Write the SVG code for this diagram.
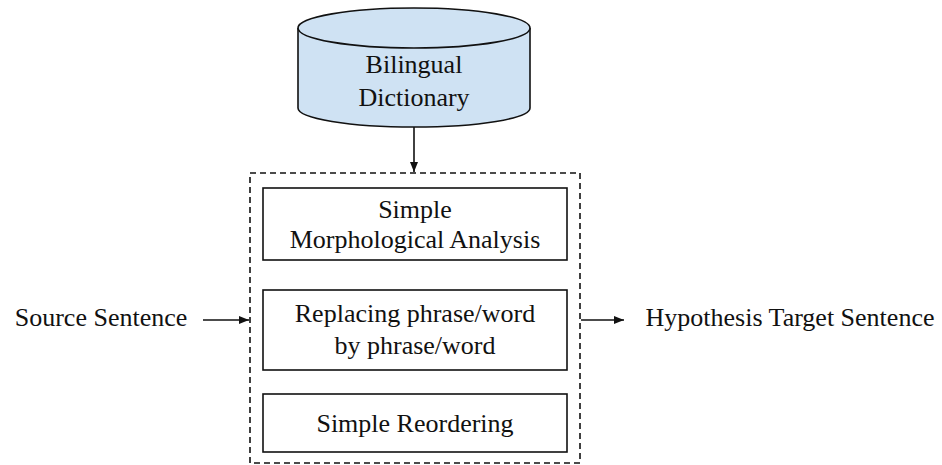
<svg xmlns="http://www.w3.org/2000/svg" width="942" height="465" viewBox="0 0 942 465">
<defs>
<style>
text{font-family:"Liberation Serif","Times New Roman",serif;font-size:26px;fill:#111;text-anchor:middle}
.box{fill:#fff;stroke:#111;stroke-width:1.6}
.ln{stroke:#111;stroke-width:1.6;fill:none}
</style>
<marker id="ah" markerWidth="10" markerHeight="8" refX="10" refY="4" orient="auto" markerUnits="userSpaceOnUse"><path d="M0,0 L10,4 L0,8 Z" fill="#111"/></marker>
</defs>
<g id="dictionary">
<path d="M298,28 L298,108 A116,19 0 0 0 530,108 L530,28" fill="#cfe2f3" stroke="#111" stroke-width="1.6"/>
<ellipse cx="414" cy="28" rx="116" ry="20" fill="#cfe2f3" stroke="#111" stroke-width="1.6"/>
<text x="414" y="73">Bilingual</text>
<text x="414" y="106">Dictionary</text>
</g>
<g id="system">
<rect x="250" y="173" width="330" height="290" fill="none" stroke="#111" stroke-width="1.6" stroke-dasharray="6,4"/>
</g>
<g id="morph">
<rect class="box" x="263" y="188" width="304" height="72"/>
<text x="415" y="218">Simple</text>
<text x="415" y="248">Morphological Analysis</text>
</g>
<g id="replace">
<rect class="box" x="263" y="290" width="304" height="80"/>
<text x="415" y="322">Replacing phrase/word</text>
<text x="415" y="354">by phrase/word</text>
</g>
<g id="reorder">
<rect class="box" x="263" y="394" width="304" height="58"/>
<text x="415" y="432">Simple Reordering</text>
</g>
<g id="source"><text x="101" y="326">Source Sentence</text></g>
<g id="target"><text x="790" y="326">Hypothesis Target Sentence</text></g>
<g id="connectors">
<line class="ln" x1="414" y1="127" x2="414" y2="172" marker-end="url(#ah)"/>
<line class="ln" x1="203" y1="320" x2="249" y2="320" marker-end="url(#ah)"/>
<line class="ln" x1="581" y1="320" x2="624" y2="320" marker-end="url(#ah)"/>
</g>
</svg>
